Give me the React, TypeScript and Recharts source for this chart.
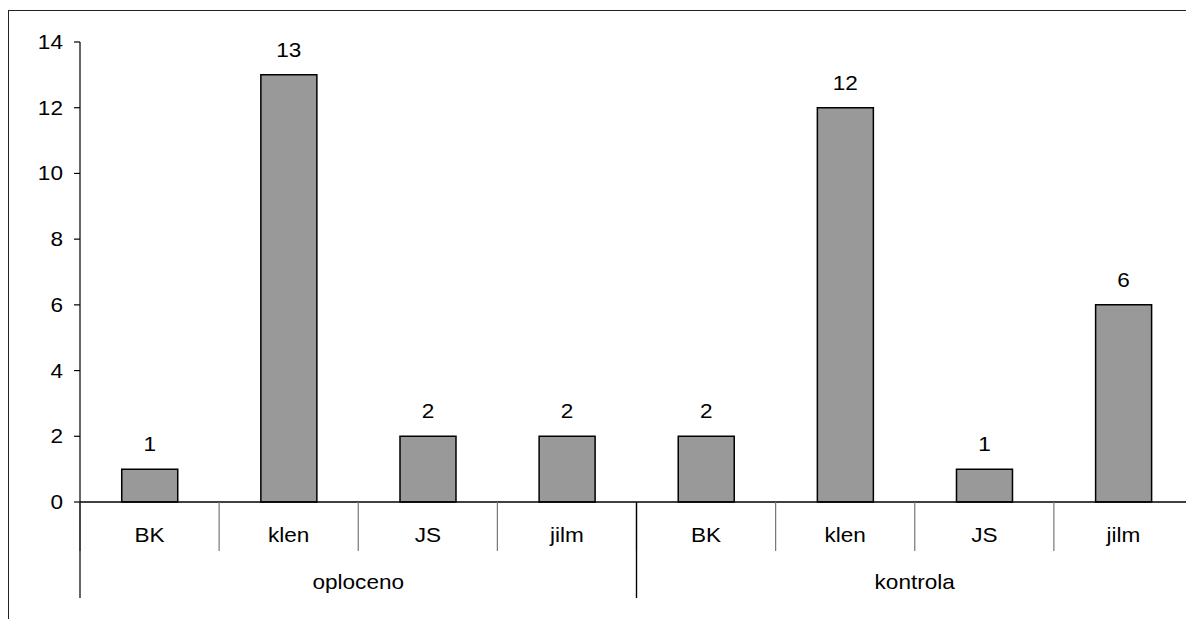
import { Bar, BarChart, LabelList, XAxis, YAxis } from "recharts";

const FONT = "Arial, 'Liberation Sans', sans-serif";
const BAR_FILL = "#999999";
const INK = "#000000";
const SEP = "#777777";
// the reference text is a little wider than plain Arial
const STRETCH = 1.13;

const species = ["BK", "klen", "JS", "jilm", "BK", "klen", "JS", "jilm"];
const groups = [
  "oploceno",
  "oploceno",
  "oploceno",
  "oploceno",
  "kontrola",
  "kontrola",
  "kontrola",
  "kontrola",
];
const counts = [1, 13, 2, 2, 2, 12, 1, 6];
const yTicks = [0, 2, 4, 6, 8, 10, 12, 14];

const CHART_W = 1200;
const CHART_H = 619;
const MARGIN = { top: 42, right: 7, bottom: 9, left: 0 };
const Y_AXIS_W = 80;
const PLOT_W = CHART_W - MARGIN.left - MARGIN.right - Y_AXIS_W;

type Row = { species: string; group: string; count: number };

const data: Row[] = species.map((s, i) => ({
  species: s,
  group: groups[i],
  count: counts[i],
}));

function Label(props: { x: number; y: number; anchor: "start" | "middle" | "end"; children: any }) {
  const { x, y, anchor, children } = props;
  return (
    <text
      transform={`translate(${x},${y}) scale(${STRETCH},1)`}
      textAnchor={anchor}
      fontSize={20}
      fontFamily={FONT}
      fill={INK}
    >
      {children}
    </text>
  );
}

function SpeciesTick(props: any) {
  const { x, y, payload } = props;
  const half = payload?.offset ?? PLOT_W / species.length / 2;
  return (
    <g>
      <line x1={x - half} x2={x - half} y1={y} y2={y + 49} stroke={SEP} strokeWidth={1.2} />
      <Label x={x} y={y + 40} anchor="middle">
        {payload.value}
      </Label>
    </g>
  );
}

function GroupTick(props: any) {
  const { x, y, payload } = props;
  const half = payload?.offset ?? PLOT_W / 4;
  return (
    <g>
      <line x1={x - half} x2={x - half} y1={y - 48} y2={y + 48} stroke={INK} strokeWidth={1.2} />
      <line x1={x + half} x2={x + half} y1={y - 48} y2={y + 48} stroke={INK} strokeWidth={1.2} />
      <Label x={x} y={y + 39} anchor="middle">
        {payload.value}
      </Label>
    </g>
  );
}

function ValueTick(props: any) {
  const { x, y, payload } = props;
  return (
    <Label x={x} y={y + 7} anchor="end">
      {payload.value}
    </Label>
  );
}

function BarValue(props: any) {
  const { x, y, width, value } = props;
  return (
    <Label x={x + width / 2} y={y - 18} anchor="middle">
      {value}
    </Label>
  );
}

export default function App() {
  return (
    <div
      style={{
        position: "absolute",
        left: 0,
        top: 0,
        width: 1186,
        height: 619,
        overflow: "hidden",
        background: "#fff",
      }}
    >
      <div
        style={{
          position: "absolute",
          left: 8,
          top: 10,
          width: 1240,
          height: 700,
          border: "1.5px solid #222",
        }}
      />
      <div style={{ position: "absolute", left: 0, top: 0 }}>
        <BarChart
          width={CHART_W}
          height={CHART_H}
          data={data}
          margin={MARGIN}
          barCategoryGap="30%"
        >
          <XAxis
            dataKey="species"
            height={48}
            interval={0}
            axisLine={{ stroke: INK, strokeWidth: 1.5 }}
            tickLine={false}
            tickSize={0}
            tickMargin={0}
            tick={<SpeciesTick />}
          />
          <XAxis
            xAxisId="group"
            dataKey="group"
            allowDuplicatedCategory={false}
            height={60}
            interval={0}
            axisLine={false}
            tickLine={false}
            tickSize={0}
            tickMargin={0}
            tick={<GroupTick />}
          />
          <YAxis
            width={Y_AXIS_W}
            domain={[0, 14]}
            ticks={yTicks}
            interval={0}
            axisLine={{ stroke: INK, strokeWidth: 1.2 }}
            tickLine={{ stroke: INK, strokeWidth: 1.2 }}
            tickSize={6}
            tickMargin={11}
            tick={<ValueTick />}
          />
          <Bar
            dataKey="count"
            fill={BAR_FILL}
            stroke={INK}
            strokeWidth={1.5}
            isAnimationActive={false}
          >
            <LabelList dataKey="count" content={<BarValue />} />
          </Bar>
        </BarChart>
      </div>
    </div>
  );
}
